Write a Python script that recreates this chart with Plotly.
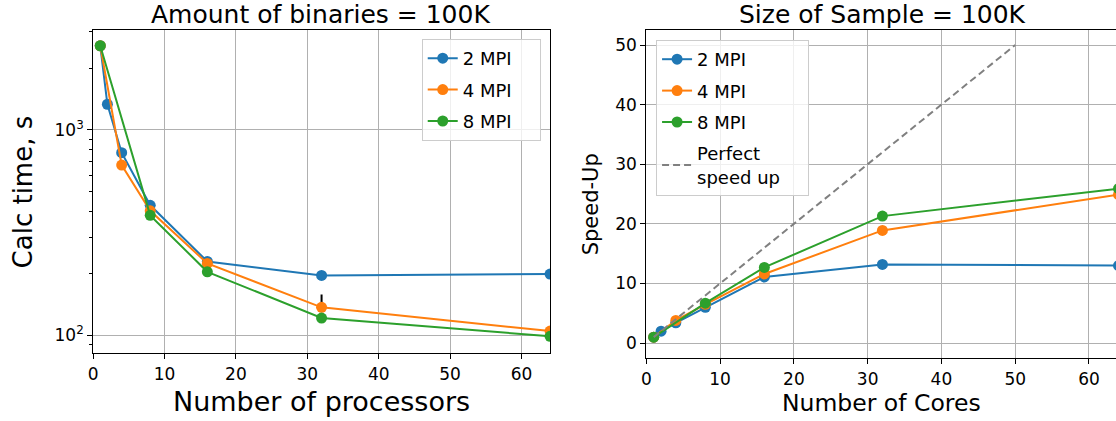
import plotly.graph_objects as go

# ---------------- data ----------------
procs_2mpi = [1, 2, 4, 8, 16, 32, 64]
time_2mpi = [2570, 1334, 775, 430, 229, 196, 199]
procs_4mpi = [1, 4, 8, 16, 32, 64]
time_4mpi = [2570, 675, 404, 224, 137, 105]
time_4mpi_err = [0, 0, 0, 0, 21, 0]
procs_8mpi = [1, 8, 16, 32, 64]
time_8mpi = [2570, 384, 204, 121.5, 99]

speedup_2mpi = [1.0, 2.0, 3.4, 6.0, 11.1, 13.2, 13.0]
speedup_4mpi = [1.0, 3.8, 6.5, 11.6, 18.9, 24.9]
speedup_8mpi = [1.0, 6.7, 12.7, 21.3, 25.9]
perfect_x = [1, 50]
perfect_y = [1, 50]

series_names = ["2 MPI", "4 MPI", "8 MPI"]
perfect_name = "Perfect<br>speed up"
colors = ["#1f77b4", "#ff7f0e", "#2ca02c"]

left_title = "Amount of binaries = 100K"
right_title = "Size of Sample = 100K"
left_xlabel = "Number of processors"
left_ylabel = "Calc time, s"
right_xlabel = "Number of Cores"
right_ylabel = "Speed-Up"

W, H = 1116, 421
FONT = "DejaVu Sans"
PAD = "\u00a0" * 4  # right padding inside the legend boxes

def px_x(p):
    return p / W

def px_y(p):
    return (H - p) / H

fig = go.Figure()

left_sets = [(procs_2mpi, time_2mpi), (procs_4mpi, time_4mpi), (procs_8mpi, time_8mpi)]
for i, (xs, ys) in enumerate(left_sets):
    kw = {}
    if i == 1:
        kw["error_y"] = dict(type="data", array=time_4mpi_err,
                             arrayminus=[0] * len(time_4mpi_err), symmetric=False,
                             color="black", thickness=2, width=0, visible=True)
    fig.add_trace(go.Scatter(
        x=xs, y=ys, name=series_names[i] + PAD, mode="lines+markers",
        line=dict(color=colors[i], width=2), marker=dict(color=colors[i], size=11),
        xaxis="x", yaxis="y", legend="legend", legendgroup="L" + str(i), **kw))

right_sets = [(procs_2mpi, speedup_2mpi), (procs_4mpi, speedup_4mpi), (procs_8mpi, speedup_8mpi)]
for i, (xs, ys) in enumerate(right_sets):
    fig.add_trace(go.Scatter(
        x=xs, y=ys, name=series_names[i], mode="lines+markers",
        line=dict(color=colors[i], width=2), marker=dict(color=colors[i], size=11),
        xaxis="x2", yaxis="y2", legend="legend2", legendgroup="R" + str(i)))

fig.add_trace(go.Scatter(
    x=perfect_x, y=perfect_y, name=perfect_name + PAD, mode="lines",
    line=dict(color="#808080", width=2, dash="7px,4px"),
    xaxis="x2", yaxis="y2", legend="legend2", legendgroup="R3"))

# ---------------- layout ----------------
axis_common = dict(
    showline=True, linecolor="black", linewidth=1,
    ticks="outside", ticklen=5, tickwidth=1, tickcolor="black",
    showgrid=True, gridcolor="#b0b0b0", gridwidth=1, zeroline=False,
    tickfont=dict(family=FONT, size=17, color="black"),
)

left_dom_x = [px_x(88.5), px_x(547.5)]
left_dom_y = [px_y(353.3), px_y(29.5)]
right_dom_x = [px_x(644.2), 1.0]
right_dom_y = [px_y(358.3), px_y(29.5)]

minor_vals = [90, 200, 300, 400, 500, 600, 700, 800, 900, 2000, 3000]

legend_common = dict(
    xanchor="left", yanchor="top",
    bgcolor="rgba(255,255,255,0.8)", bordercolor="#cccccc", borderwidth=1,
    font=dict(family=FONT, size=18, color="black"),
    traceorder="grouped", tracegroupgap=5,
)

fig.update_layout(
    width=W, height=H,
    margin=dict(l=0, r=0, t=0, b=0),
    paper_bgcolor="white", plot_bgcolor="white",
    font=dict(family=FONT, color="black"),
    xaxis=dict(domain=left_dom_x, anchor="y", range=[0, 64], mirror=True,
               tickmode="array", tickvals=[0, 10, 20, 30, 40, 50, 60], **axis_common),
    yaxis=dict(domain=left_dom_y, anchor="x", type="log", range=[1.913, 3.489], mirror=True,
               tickmode="array", tickvals=[100, 1000],
               ticktext=["10<sup>2</sup>", "10<sup>3</sup>"],
               minor=dict(tickmode="array", tickvals=minor_vals, ticks="outside",
                          ticklen=3, tickcolor="black", tickwidth=1, showgrid=False),
               **axis_common),
    xaxis2=dict(domain=right_dom_x, anchor="y2", range=[0, 63.66], mirror=True,
                tickmode="array", tickvals=[0, 10, 20, 30, 40, 50, 60], **axis_common),
    yaxis2=dict(domain=right_dom_y, anchor="x2", range=[-2.55, 52.6], mirror=False,
                tickmode="array", tickvals=[0, 10, 20, 30, 40, 50], **axis_common),
    legend=dict(x=px_x(418.6), y=px_y(39), **legend_common),
    legend2=dict(x=px_x(654), y=px_y(40), **legend_common),
    showlegend=True,
)

annotations = [
    dict(text=left_title, x=px_x(316.5), y=px_y(14), font=dict(size=25)),
    dict(text=right_title, x=px_x(881.5), y=px_y(14), font=dict(size=25)),
    dict(text=left_xlabel, x=px_x(317.5), y=px_y(401.7), font=dict(size=27)),
    dict(text=right_xlabel, x=px_x(880.4), y=px_y(403), font=dict(size=23.5)),
    dict(text=left_ylabel, x=px_x(19), y=px_y(191.5), font=dict(size=26), textangle=-90),
    dict(text=right_ylabel, x=px_x(589), y=px_y(204), font=dict(size=21), textangle=-90),
]
for a in annotations:
    a.update(xref="paper", yref="paper", xanchor="center", yanchor="middle",
             showarrow=False)
    a["font"].update(family=FONT, color="black")
fig.update_layout(annotations=annotations)

fig.write_html("out.html")
